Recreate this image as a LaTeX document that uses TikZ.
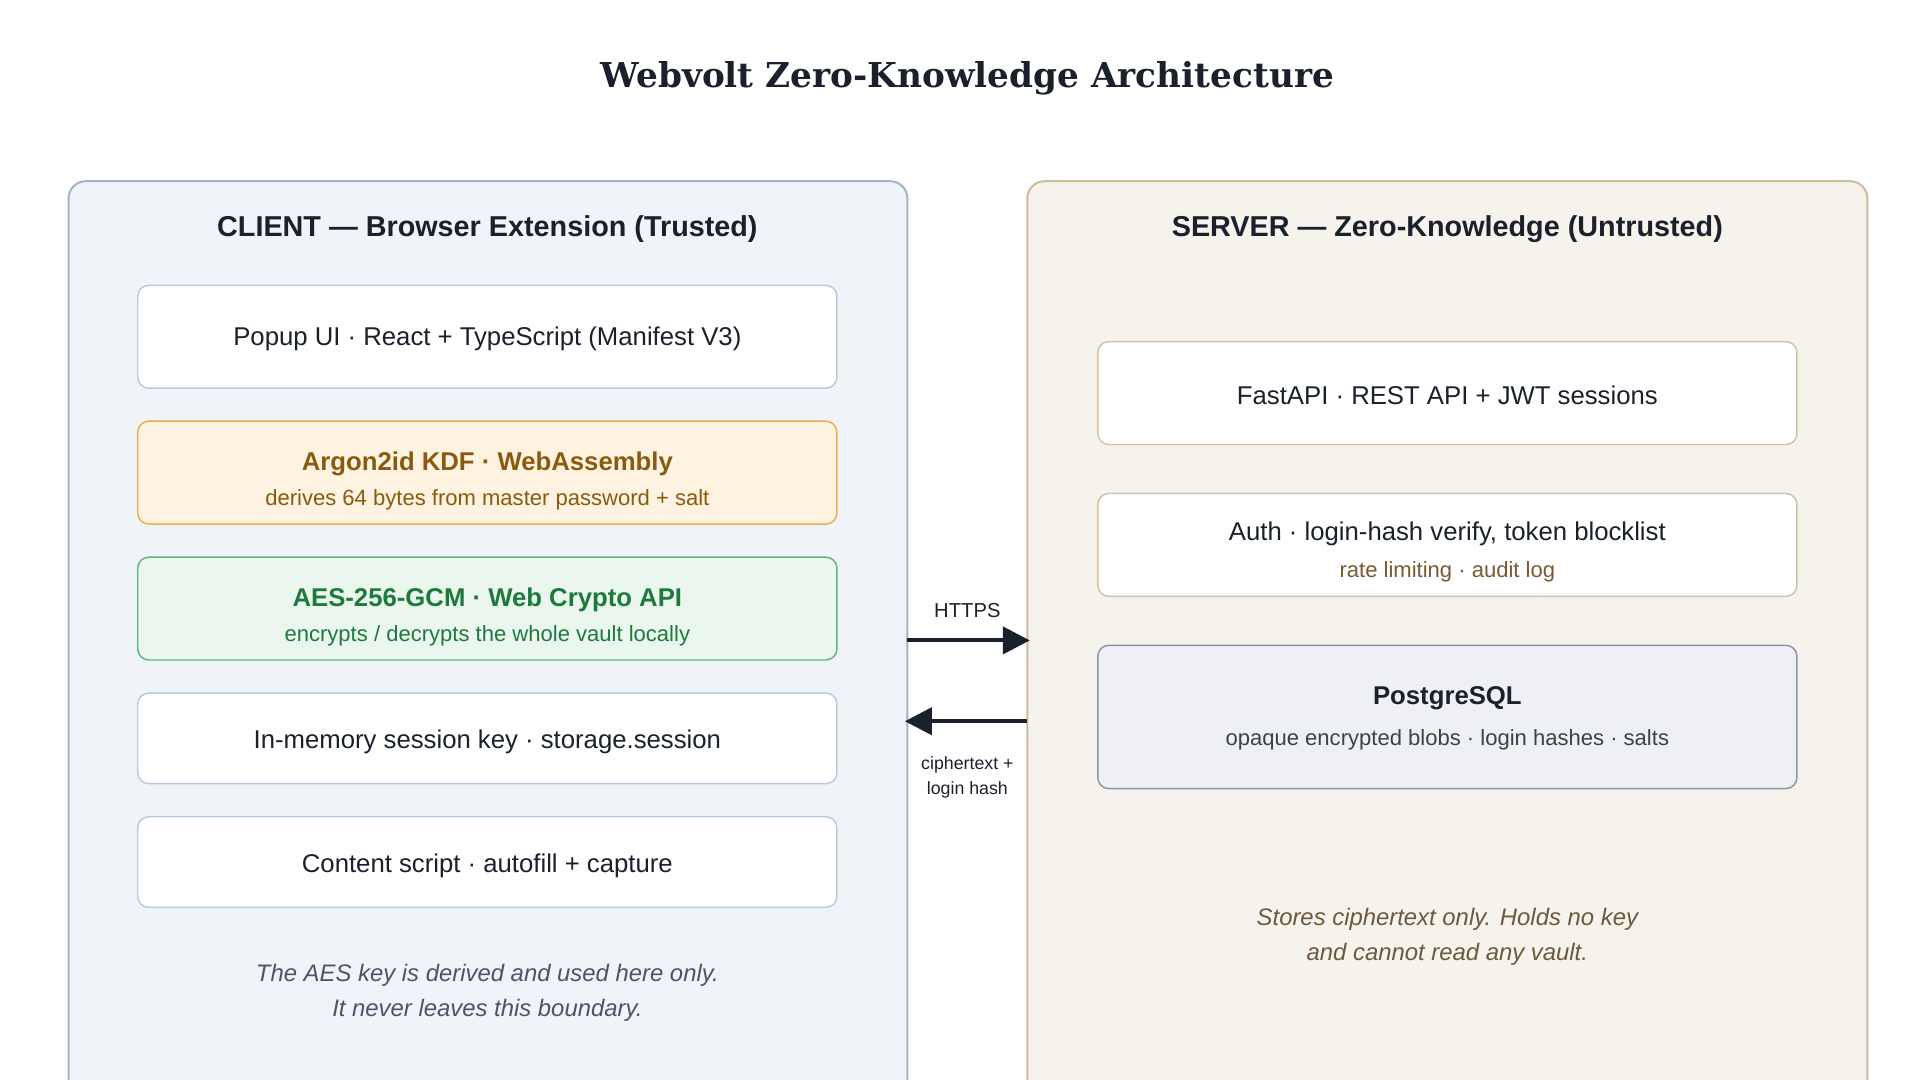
\documentclass[tikz,border=0pt]{standalone}
\usepackage{fontspec}
\setmainfont{Liberation Sans}
\newfontfamily\titlefont{DejaVu Serif}
\usetikzlibrary{positioning,arrows.meta}
\definecolor{ink}{HTML}{1A202C}
\definecolor{clientfill}{HTML}{F0F4F9}
\definecolor{clientline}{HTML}{9DB3D0}
\definecolor{serverfill}{HTML}{F6F2EC}
\definecolor{serverline}{HTML}{D2B99A}
\definecolor{kdffill}{HTML}{FEF3E0}
\definecolor{kdfline}{HTML}{E8B04A}
\definecolor{kdftext}{HTML}{8A5A10}
\definecolor{aesfill}{HTML}{EAF6EE}
\definecolor{aesline}{HTML}{5CB87A}
\definecolor{aestext}{HTML}{1E7A3C}
\definecolor{dbfill}{HTML}{EEF0F4}
\definecolor{dbline}{HTML}{8A96A8}
\definecolor{notegrey}{HTML}{4A5568}
\definecolor{notebrown}{HTML}{6B5A40}
\definecolor{subbrown}{HTML}{7A5A30}
\tikzset{
  panel/.style={rounded corners=14pt,line width=1.6pt,anchor=north west},
  box/.style={rounded corners=9pt,line width=1.2pt,fill=white,minimum width=571pt,align=center,
    font=\fontsize{21}{25}\selectfont,text=ink},
  cbox/.style={box,draw=clientline!70},
  sbox/.style={box,draw=serverline!90!white},
  head/.style={font=\fontsize{23.5}{28}\selectfont\bfseries,text=ink},
  sub/.style={font=\fontsize{18}{22}\selectfont},
  note/.style={font=\fontsize{19.5}{29}\selectfont\itshape,align=center},
  link/.style={line width=3.4pt,draw=ink,-{Triangle[length=22pt,width=22pt]}},
  tag/.style={font=\fontsize{16.5}{20}\selectfont,text=ink,align=center}
}
\begin{document}
\begin{tikzpicture}[x=1pt,y=-1pt]
\useasboundingbox (0,0) rectangle (1568,882);
\begin{scope}
\clip (0,0) rectangle (1568,882);
% title
\node[font=\titlefont\fontsize{28}{33}\selectfont\bfseries,text=ink] (title) at (790,64) {Webvolt Zero-Knowledge Architecture};

% client side
\draw[panel,fill=clientfill,draw=clientline] (56,148) rectangle (741,960);
\node[head] (clienthead) at (398,187) {CLIENT — Browser Extension (Trusted)};
\node[cbox,minimum height=84pt] (popup) at (398,275) {};
\node[font=\fontsize{21}{25}\selectfont,text=ink] at (398,277) {Popup UI · React + TypeScript (Manifest V3)};
\node[cbox,minimum height=84pt,fill=kdffill,draw=kdfline] (kdf) at (398,386) {};
\node[font=\fontsize{21}{25}\selectfont\bfseries,text=kdftext] at (398,379) {Argon2id KDF · WebAssembly};
\node[sub,text=kdftext] at (398,408) {derives 64 bytes from master password + salt};
\node[cbox,minimum height=84pt,fill=aesfill,draw=aesline] (aes) at (398,497) {};
\node[font=\fontsize{21}{25}\selectfont\bfseries,text=aestext] at (398,490) {AES-256-GCM · Web Crypto API};
\node[sub,text=aestext] at (398,519) {encrypts / decrypts the whole vault locally};
\node[cbox,minimum height=74pt] (sessionkey) at (398,603) {};
\node[font=\fontsize{21}{25}\selectfont,text=ink] at (398,606) {In-memory session key · storage.session};
\node[cbox,minimum height=74pt] (content) at (398,704) {};
\node[font=\fontsize{21}{25}\selectfont,text=ink] at (398,707) {Content script · autofill + capture};
\node[note,text=notegrey] (clientnote) at (398,811) {The AES key is derived and used here only.\\It never leaves this boundary.};

% server side
\draw[panel,fill=serverfill,draw=serverline] (839,148) rectangle (1525,960);
\node[head] (serverhead) at (1182,187) {SERVER — Zero-Knowledge (Untrusted)};
\node[sbox,minimum height=84pt] (api) at (1182,321) {};
\node[font=\fontsize{21}{25}\selectfont,text=ink] at (1182,323) {FastAPI · REST API + JWT sessions};
\node[sbox,minimum height=84pt] (auth) at (1182,445) {};
\node[font=\fontsize{21}{25}\selectfont,text=ink] at (1182,436) {Auth · login-hash verify, token blocklist};
\node[sub,text=subbrown] at (1182,467) {rate limiting · audit log};
\node[sbox,minimum height=117pt,fill=dbfill,draw=dbline] (db) at (1182,585.5) {};
\node[font=\fontsize{21}{25}\selectfont\bfseries,text=ink] at (1182,570) {PostgreSQL};
\node[sub,text=ink!85] at (1182,604) {opaque encrypted blobs · login hashes · salts};
\node[note,text=notebrown] (servernote) at (1182,765) {Stores ciphertext only. Holds no key\\and cannot read any vault.};

% links
\coordinate (cout) at (741,523);
\coordinate (sin) at (841,523);
\coordinate (sout) at (839,589);
\coordinate (cin) at (739,589);
\draw[link] (cout) -- (sin);
\draw[link] (sout) -- (cin);
\node[tag] (https) at (790,499) {HTTPS};
\node[tag,font=\fontsize{14.5}{20}\selectfont] (cipher) at (790,635) {ciphertext +\\login hash};
\end{scope}
\end{tikzpicture}
\end{document}
